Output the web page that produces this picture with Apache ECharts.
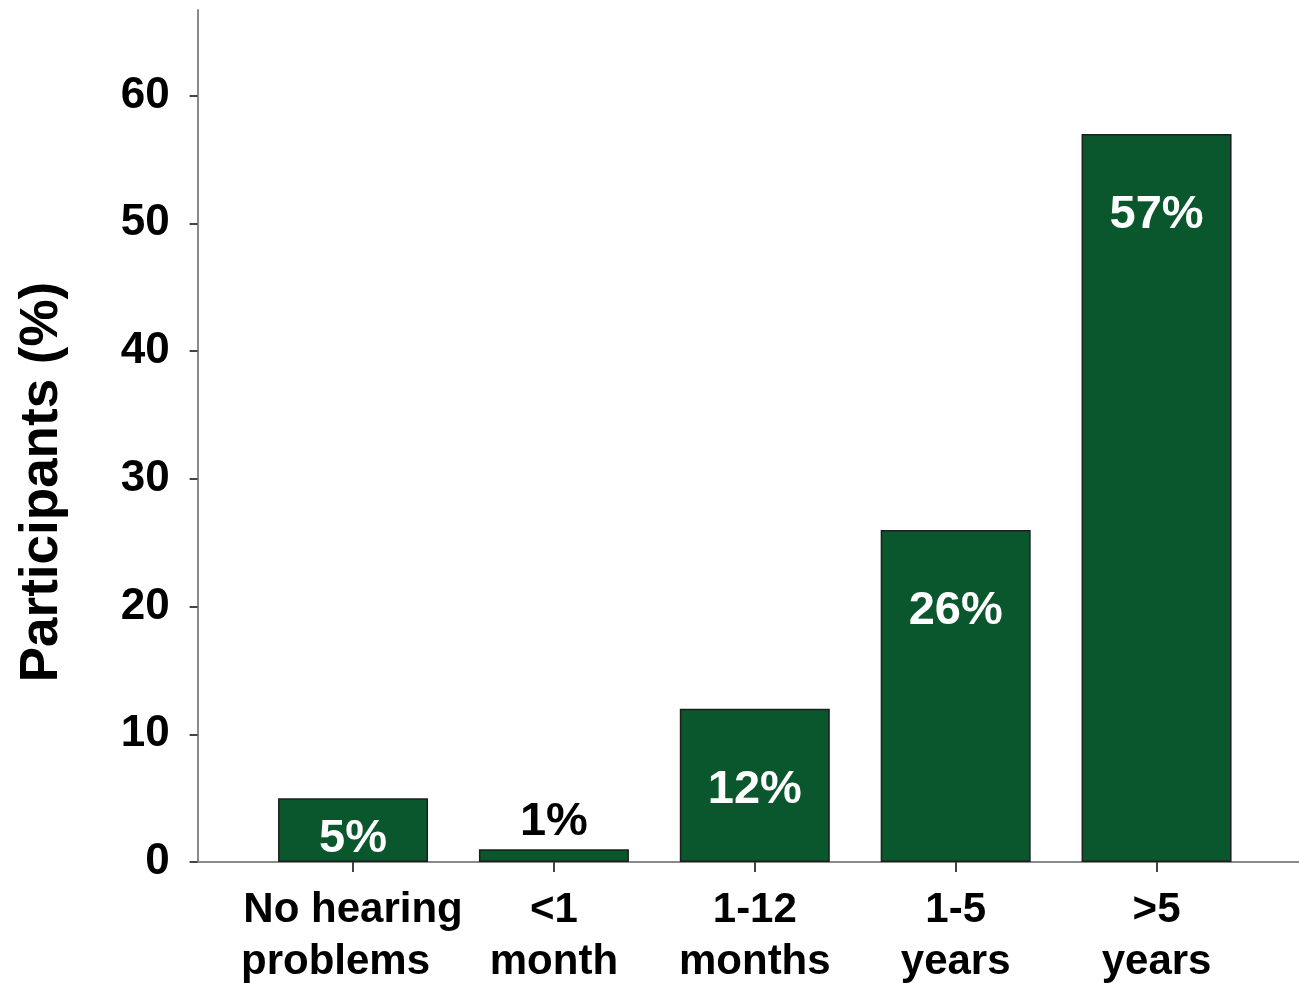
<!DOCTYPE html>
<html>
<head>
<meta charset="utf-8">
<script src="https://cdn.jsdelivr.net/npm/echarts@6/dist/echarts.min.js"></script>
<style>
  html, body { margin: 0; padding: 0; background: #fff; }
  #chart { width: 1299px; height: 983px; }
</style>
</head>
<body>
<div id="chart"></div>
<script>
// Time since onset of hearing problems, share of participants
const categories = ['No hearing\nproblems', '<1\nmonth', '1-12\nmonths', '1-5\nyears', '>5\nyears'];
const participantsPct = [5, 1, 12, 26, 57];
const yTickValues = [0, 10, 20, 30, 40, 50, 60];

const FONT = "'Liberation Sans', Arial, Helvetica, sans-serif";
const BAR_GREEN = '#0b572d';

// Per-bar label placement: white inside the taller bars, black above the thinnest one
function labelFor(v) {
  if (v < 3) {
    return { position: 'top', distance: 4, color: '#000' };
  }
  if (v < 8) {
    return { position: 'insideTop', distance: 17, color: '#fff' };
  }
  return { position: 'insideTop', distance: 58, color: '#fff' };
}

const barData = participantsPct.map(v => ({ value: v, label: labelFor(v) }));

// The first category's second line sits flush with the start of the first line
function categoryLabel(value, index) {
  if (index === 0) {
    const lines = value.split('\n');
    return lines[0] + '\n' + lines[1] + '   ';
  }
  return value;
}

const chart = echarts.init(document.getElementById('chart'), null, { renderer: 'canvas' });

chart.setOption({
  animation: false,
  backgroundColor: '#fff',
  grid: [
    { left: 252.6, right: 42, top: 10, bottom: 121, containLabel: false, outerBoundsMode: 'none' },
    { left: 191, right: 0, top: 10, bottom: 121, containLabel: false, outerBoundsMode: 'none' }
  ],
  xAxis: [
    {
      type: 'category',
      gridIndex: 0,
      data: categories,
      axisLine: { show: false },
      axisTick: { show: true, alignWithLabel: true, length: 10, lineStyle: { color: '#444', width: 2 } },
      axisLabel: {
        color: '#000', fontFamily: FONT, fontWeight: 'bold', fontSize: 42,
        lineHeight: 52, margin: 22, interval: 0,
        formatter: categoryLabel
      }
    },
    {
      // long baseline running under the whole plot
      type: 'value',
      gridIndex: 1,
      min: 0, max: 1,
      axisLine: { show: true, lineStyle: { color: '#8a8a8a', width: 2 } },
      axisTick: { show: false },
      axisLabel: { show: false },
      splitLine: { show: false }
    }
  ],
  yAxis: [
    {
      type: 'value',
      gridIndex: 0,
      min: 0,
      max: 66.7,
      offset: 55,
      name: 'Participants (%)',
      nameLocation: 'middle',
      nameRotate: 90,
      nameGap: 129,
      nameTextStyle: {
        color: '#000', fontFamily: FONT, fontWeight: 'bold', fontSize: 53,
        padding: [0, 92, 0, 0]
      },
      axisLine: { show: true, lineStyle: { color: '#8a8a8a', width: 2 } },
      axisTick: { show: true, length: 8, customValues: yTickValues, lineStyle: { color: '#444', width: 2 } },
      axisLabel: {
        customValues: yTickValues,
        color: '#000', fontFamily: FONT, fontWeight: 'bold', fontSize: 44, margin: 28
      },
      splitLine: { show: false }
    },
    {
      type: 'value',
      gridIndex: 1,
      show: false
    }
  ],
  series: [
    {
      type: 'bar',
      xAxisIndex: 0,
      yAxisIndex: 0,
      data: barData,
      barWidth: 150,
      itemStyle: { color: BAR_GREEN, borderColor: '#1e1e1e', borderWidth: 1.5 },
      label: {
        show: true,
        formatter: p => p.value + '%',
        fontFamily: FONT, fontWeight: 'bold', fontSize: 47, lineHeight: 47
      }
    }
  ]
});
</script>
</body>
</html>
